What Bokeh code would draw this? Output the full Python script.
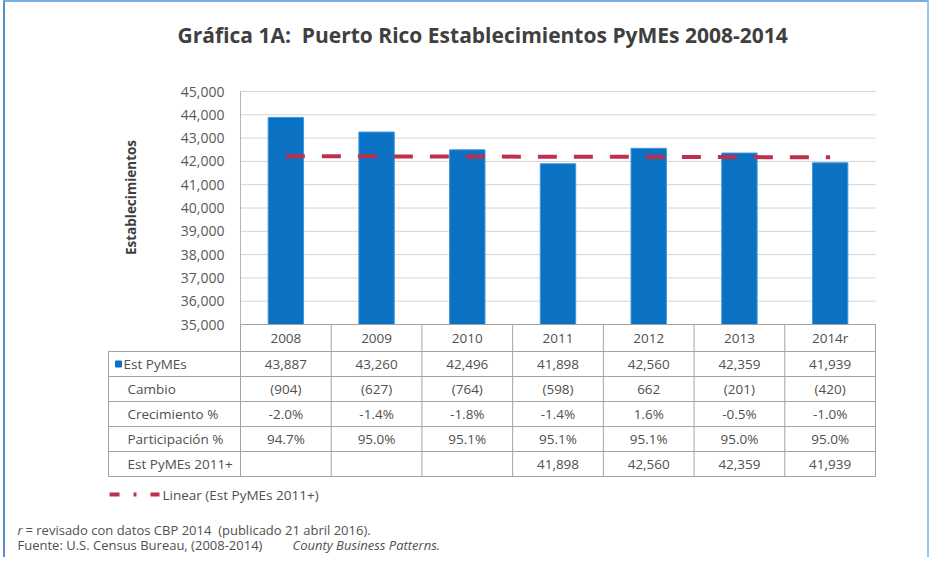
import numpy as np
from bokeh.plotting import figure
from bokeh.layouts import column
from bokeh.models import Range1d
from bokeh.core.properties import value
from bokeh.embed import file_html
from bokeh.resources import INLINE

# ---------------- data ----------------
years = ["2008", "2009", "2010", "2011", "2012", "2013", "2014r"]
est_pymes = [43887, 43260, 42496, 41898, 42560, 42359, 41939]
cambio = ["(904)", "(627)", "(764)", "(598)", "662", "(201)", "(420)"]
crecimiento = ["-2.0%", "-1.4%", "-1.8%", "-1.4%", "1.6%", "-0.5%", "-1.0%"]
participacion = ["94.7%", "95.0%", "95.1%", "95.1%", "95.1%", "95.0%", "95.0%"]
est_2011 = [None, None, None, 41898, 42560, 42359, 41939]
row_labels = ["Est PyMEs", "Cambio", "Crecimiento %", "Participación %", "Est PyMEs 2011+"]
y_ticks = [35000, 36000, 37000, 38000, 39000, 40000, 41000, 42000, 43000, 44000, 45000]

title_text = "Gráfica 1A:\u00a0 Puerto Rico Establecimientos PyMEs 2008-2014"
y_title = "Establecimientos"
legend_text = "Linear (Est PyMEs 2011+)"
foot1_a, foot1_b = "r", "= revisado con datos CBP 2014\u00a0 (publicado 21 abril 2016)."
foot2_a, foot2_b = "Fuente: U.S. Census Bureau, (2008-2014)", "County Business Patterns."

# ---------------- layout constants (screen pixels) ----------------
FONT = "Open Sans"
TXT = "#404040"
TBL = "#505050"
BLUE = "#0a71c3"
RED = "#c0304c"
GRID = "#d4d4d4"
LINE = "#a3a3a3"
ORIGIN_X, ORIGIN_Y = 13, 10           # where the canvas starts on screen
W, H = 922, 555
PLOT_L, PLOT_R, PLOT_T, PLOT_B = 248, 883, 99, 332
n = len(years)
unit = (PLOT_R - PLOT_L) / n
idx = list(range(n))


def cx(sx):
    return -0.5 + (sx - PLOT_L) / unit


def py(sy):
    return sy - ORIGIN_Y


ppu = (PLOT_B - PLOT_T) / (y_ticks[-1] - y_ticks[0])
v_start = y_ticks[0] - (ORIGIN_Y + H - PLOT_B) / ppu
v_end = y_ticks[-1] + (PLOT_T - ORIGIN_Y) / ppu

p = figure(width=W, height=H, x_range=Range1d(cx(ORIGIN_X), cx(ORIGIN_X + W)),
           y_range=Range1d(H, 0), x_axis_location=None, y_axis_location=None,
           output_backend="svg", toolbar_location=None, min_border=0)
p.extra_y_ranges = {"val": Range1d(v_start, v_end)}
p.grid.visible = False
p.outline_line_color = None
p.background_fill_color = "white"
p.border_fill_color = "white"

# ---------------- title ----------------
p.text(x=[cx(185)], y=[py(42)], text=[title_text], text_font=value(FONT),
       text_font_size="21px", text_font_style="bold", text_color=TXT,
       text_align="left", text_baseline="middle")

# ---------------- value axis ----------------
xs0 = [-0.5] * len(y_ticks)
xs1 = [n - 0.5] * len(y_ticks)
p.segment(x0=xs0, y0=y_ticks, x1=xs1, y1=y_ticks, line_color=GRID,
          line_width=1, y_range_name="val")
p.segment(x0=[-0.5], y0=[y_ticks[0]], x1=[-0.5], y1=[y_ticks[-1]],
          line_color="#b5b5b5", line_width=1, y_range_name="val")
p.text(x=[cx(232)] * len(y_ticks), y=y_ticks, text=[f"{v:,}" for v in y_ticks],
       text_font=value(FONT), text_font_size="14px", text_color="#595959",
       text_align="right", text_baseline="middle", y_range_name="val")
p.text(x=[cx(138)], y=[py(205)], text=[y_title], angle=np.pi / 2,
       text_font=value(FONT), text_font_size="13.5px", text_font_style="bold",
       text_color=TXT, text_align="center", text_baseline="middle")

# ---------------- bars + trend ----------------
p.vbar(x=idx, top=est_pymes, bottom=y_ticks[0], width=0.39,
       fill_color=BLUE, line_color="#3a98e2", line_width=1, y_range_name="val")

tx = np.array([i for i, v in enumerate(est_2011) if v is not None], dtype=float)
tv = np.array([v for v in est_2011 if v is not None], dtype=float)
slope, icpt = np.polyfit(tx, tv, 1)
xl = np.array([0, n - 1], dtype=float)
p.line(xl, icpt + slope * xl, line_color=RED, line_width=4, line_dash="19 17",
       y_range_name="val")

# ---------------- data table ----------------
row_edges = [py(s) for s in [PLOT_B, 359, 384, 409, 434, 459, 484]]
label_left = cx(116)

vx = [k - 0.5 for k in range(n + 1)]
p.segment(x0=vx, y0=[row_edges[0]] * len(vx), x1=vx, y1=[row_edges[-1]] * len(vx),
          line_color=LINE, line_width=1)
p.segment(x0=[label_left], y0=[row_edges[1]], x1=[label_left], y1=[row_edges[-1]],
          line_color=LINE, line_width=1)
p.segment(x0=[-0.5], y0=[row_edges[0]], x1=[n - 0.5], y1=[row_edges[0]],
          line_color=LINE, line_width=1)
hy = row_edges[1:]
p.segment(x0=[label_left] * len(hy), y0=hy, x1=[n - 0.5] * len(hy), y1=hy,
          line_color=LINE, line_width=1)

mid = [(row_edges[i] + row_edges[i + 1]) / 2 for i in range(len(row_edges) - 1)]
txt_kw = dict(text_font=value(FONT), text_font_size="13.5px", text_color=TBL,
              text_baseline="middle")

p.text(x=idx, y=[mid[0]] * n, text=years, text_align="center", **txt_kw)
rows = [[f"{v:,}" for v in est_pymes], cambio, crecimiento, participacion,
        ["" if v is None else f"{v:,}" for v in est_2011]]
for r, vals in enumerate(rows):
    p.text(x=idx, y=[mid[r + 1]] * n, text=vals, text_align="center", **txt_kw)

lab_x = [cx(131)] + [cx(135)] * (len(row_labels) - 1)
p.text(x=lab_x, y=mid[1:], text=row_labels, text_align="left",
       **dict(txt_kw, text_font_size="13.5px"))
p.scatter(x=[cx(126)], y=[mid[1]], marker="square", size=6,
          fill_color=BLUE, line_color=BLUE)

# ---------------- legend ----------------
ly = py(502)
p.line([cx(117), cx(167)], [ly, ly], line_color=RED, line_width=4,
       line_dash="10 14 3 14")
p.text(x=[cx(170)], y=[ly], text=[legend_text], text_align="left",
       **dict(txt_kw, text_font_size="13.5px"))

# ---------------- footnotes ----------------
fkw = dict(text_font=value(FONT), text_font_size="13px", text_color=TBL,
           text_baseline="middle", text_align="left")
p.text(x=[cx(25)], y=[py(537)], text=[foot1_a], text_font_style="italic", **fkw)
p.text(x=[cx(33)], y=[py(537)], text=[foot1_b], **fkw)
p.text(x=[cx(25)], y=[py(552)], text=[foot2_a], **fkw)
p.text(x=[cx(300)], y=[py(552)], text=[foot2_b], text_font_style="italic", **fkw)

layout = column(p, styles={"border-top": "2px solid #7aaede",
                           "border-left": "2px solid #5a8fc8",
                           "border-right": "2px solid #9cc6ea",
                           "margin-left": "3px"})

open("out.html", "w").write(file_html(layout, INLINE))
